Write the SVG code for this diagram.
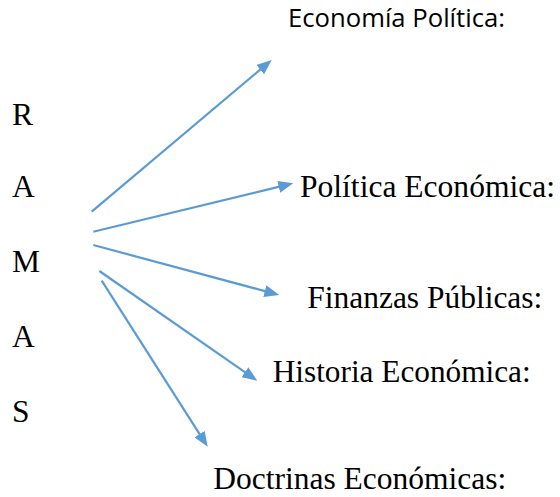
<svg xmlns="http://www.w3.org/2000/svg" width="560" height="497" viewBox="0 0 560 497">
<style>
.serif{font-family:"Liberation Serif","Times New Roman",serif;font-size:31.5px;fill:#000}
.sans{font-family:"Open Sans","Liberation Sans",sans-serif;font-size:26px;fill:#000}
.conn{stroke:#5B9BD5;stroke-width:2.2;fill:none;marker-end:url(#ah)}
</style>
<defs>
<marker id="ah" markerUnits="userSpaceOnUse" markerWidth="16" markerHeight="12" refX="3" refY="6" orient="auto">
<path d="M0,0 L15,6 L0,12 z" fill="#5B9BD5"/>
</marker>
</defs>
<rect width="560" height="497" fill="#fff"/>
<g id="ramas">
<text class="serif" x="12" y="125">R</text>
<text class="serif" x="12" y="197.3">A</text>
<text class="serif" x="12" y="271.7">M</text>
<text class="serif" x="12" y="346.7">A</text>
<text class="serif" x="12" y="421.7">S</text>
</g>
<g id="economia-politica"><text class="sans" x="288" y="26.7" textLength="217" lengthAdjust="spacingAndGlyphs">Economía Política:</text></g>
<g id="politica-economica"><text class="serif" x="300" y="197.3" textLength="255" lengthAdjust="spacingAndGlyphs">Política Económica:</text></g>
<g id="finanzas-publicas"><text class="serif" x="307.3" y="308.3" textLength="235" lengthAdjust="spacingAndGlyphs">Finanzas Públicas:</text></g>
<g id="historia-economica"><text class="serif" x="272.7" y="381.7" textLength="258" lengthAdjust="spacingAndGlyphs">Historia Económica:</text></g>
<g id="doctrinas-economicas"><text class="serif" x="213.3" y="489" textLength="293" lengthAdjust="spacingAndGlyphs">Doctrinas Económicas:</text></g>
<g id="connectors">
<line class="conn" x1="91.7" y1="211.7" x2="262.5" y2="67.7"/>
<line class="conn" x1="93.3" y1="231.7" x2="281.6" y2="186.1"/>
<line class="conn" x1="93.3" y1="245" x2="267.7" y2="291.9"/>
<line class="conn" x1="99.3" y1="271" x2="247.4" y2="373.9"/>
<line class="conn" x1="101.7" y1="280.7" x2="201.2" y2="436.6"/>
</g>
</svg>
